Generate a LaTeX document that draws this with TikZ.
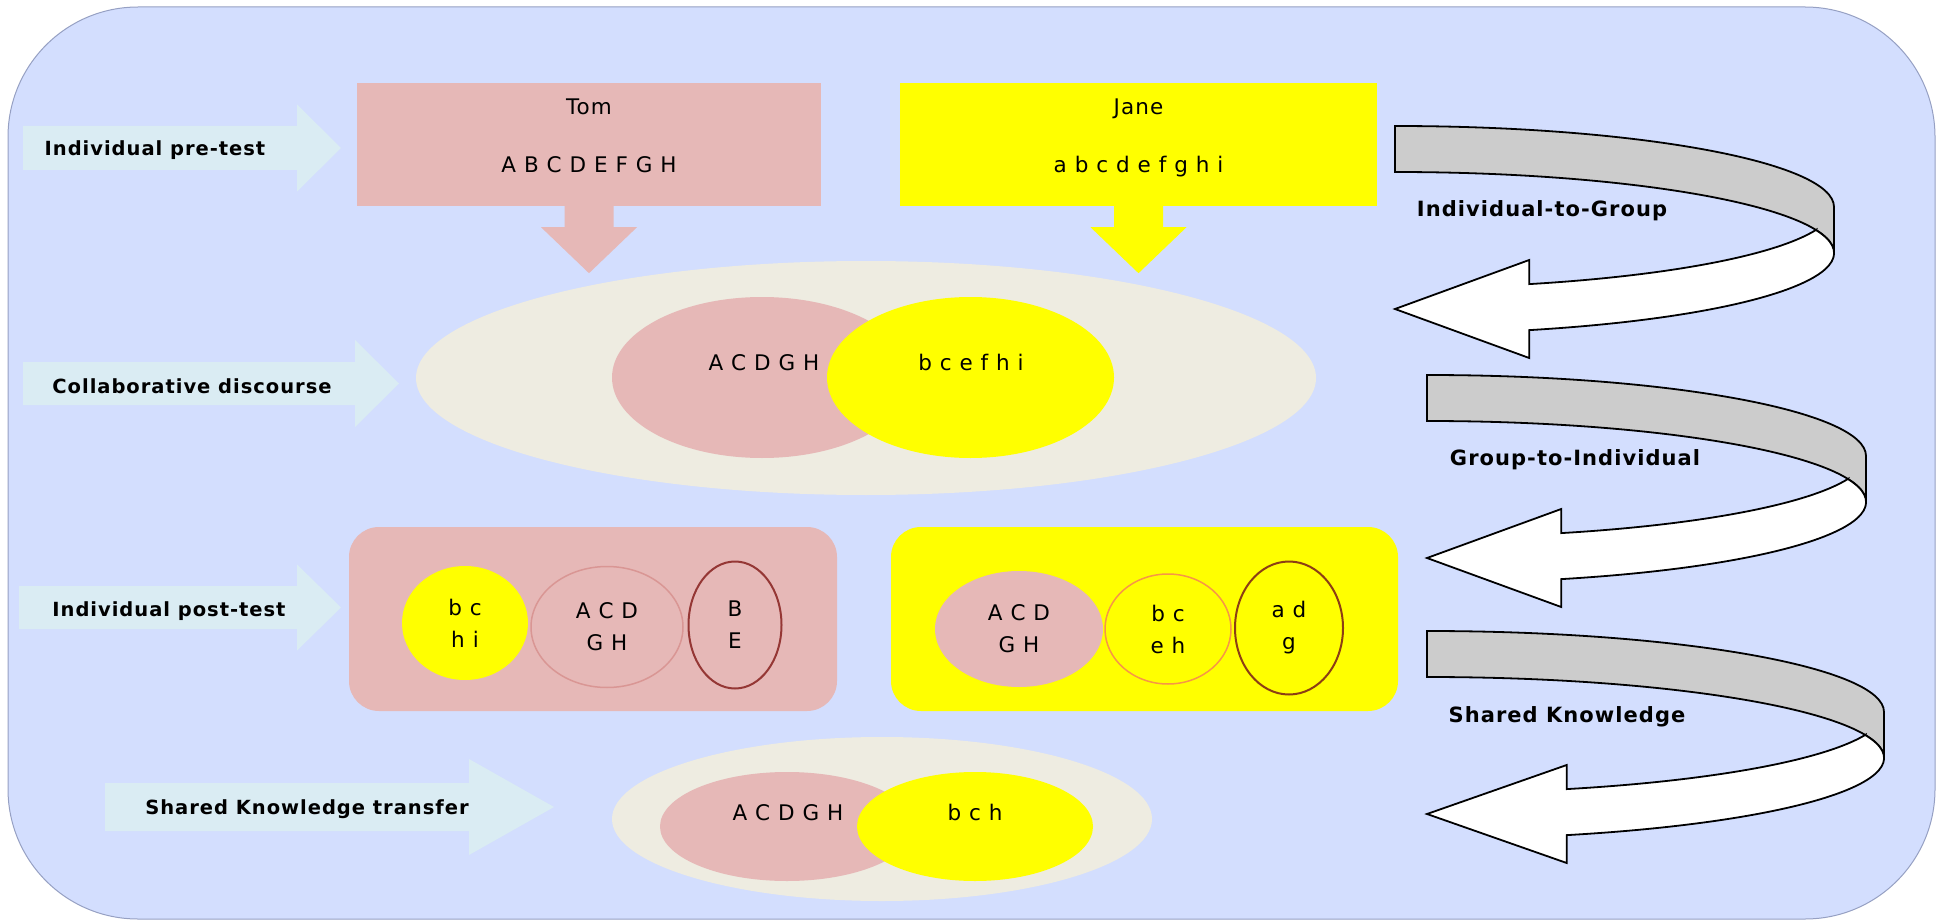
\documentclass[tikz,border=0pt]{standalone}
\usepackage{fontspec}
\setmainfont[LetterSpace=5]{DejaVu Sans}
\usepackage{tikz}
\usetikzlibrary{shapes.geometric, positioning, calc}

\definecolor{bgblue}{RGB}{211,222,254}
\definecolor{bgline}{RGB}{150,160,195}
\definecolor{lblcyan}{RGB}{218,236,243}
\definecolor{tompink}{RGB}{230,184,183}
\definecolor{janeyel}{RGB}{255,255,0}
\definecolor{talkbeige}{RGB}{238,236,225}
\definecolor{ribgray}{RGB}{204,204,204}
\definecolor{rimpink}{RGB}{217,150,148}
\definecolor{rimred}{RGB}{149,55,53}
\definecolor{rimorange}{RGB}{247,150,70}
\definecolor{rimbrown}{RGB}{140,62,20}

\tikzset{
  cue/.style={fill=lblcyan},
  cuetext/.style={font=\fontsize{19.5}{23}\selectfont\bfseries, anchor=base},
  looptext/.style={font=\fontsize{21}{25}\selectfont\bfseries, anchor=base},
  letters/.style={font=\fontsize{21.5}{32}\selectfont, align=center, inner sep=0pt},
  namebox/.style={rectangle, inner sep=0pt},
  blob/.style={ellipse, inner sep=0pt},
  postbox/.style={rectangle, rounded corners=30pt, inner sep=0pt},
  ribbonline/.style={draw=black, line width=1.8pt},
}

% left x, mid y, head base x, tip x, half shaft, half head
\newcommand\cue[6]{%
  \fill[cue] (#1,#2-#5) -- (#3,#2-#5) -- (#3,#2-#6) -- (#4,#2)
    -- (#3,#2+#6) -- (#3,#2+#5) -- (#1,#2+#5) -- cycle;}

% box, colour
\newcommand\drop[2]{%
  \fill[#2] ($(#1.south)+(-24.5,0)$) -- ++(0,21) -- ++(-23.5,0) -- ($(#1.south)+(0,67)$)
    -- ($(#1.south)+(48,21)$) -- ++(-23.5,0) -- ++(0,-21) -- cycle;}

% top left x, top left y, stretch
\newcommand\ribbon[3]{%
  \begin{scope}[shift={(#1,#2)}, xscale=#3]
    \draw[ribbonline, fill=ribgray] (0,0)
      arc[start angle=90, end angle=0, x radius=439pt, y radius=81pt]
      -- (439,127) arc[start angle=0, end angle=90, x radius=439pt, y radius=81pt] -- cycle;
    \draw[ribbonline, fill=white] (420.9,104)
      arc[start angle=16.5, end angle=-72.2, x radius=439pt, y radius=81pt]
      -- (134.2,232) -- (0,183) -- (134.2,134) -- (134.2,158.1)
      arc[start angle=-72.2, end angle=-16.5, x radius=439pt, y radius=81pt] -- cycle;
  \end{scope}}

\begin{document}
\begin{tikzpicture}[x=1pt, y=-1pt]
\useasboundingbox (0,0) rectangle (1939,920);
\draw[draw=bgline, fill=bgblue, line width=1pt, rounded corners=130pt] (8,7) rectangle (1935,919);

% stages
\cue{23}{148}{297}{341}{22}{43.5}
\cue{23}{383.5}{355}{399}{21.5}{43.5}
\cue{19}{607.5}{297}{341}{21.5}{43}
\cue{105}{807}{469}{554}{24}{48}
\node[cuetext] (pre)    at (155,156) {Individual pre-test};
\node[cuetext] (collab) at (192,393) {Collaborative discourse};
\node[cuetext] (post)   at (169,616) {Individual post-test};
\node[cuetext] (trans)  at (307,814) {Shared Knowledge transfer};

% pre-test
\node[namebox, fill=tompink, minimum width=464pt, minimum height=123pt] (tom) at (589,144.5) {};
\node[namebox, fill=janeyel, minimum width=477pt, minimum height=123pt] (jane) at (1138.5,144.5) {};
\node[letters, anchor=base] (tomname) at (589,115) {Tom};
\node[letters, anchor=base] (tomset) at (589,173) {A B C D E F G H};
\node[letters, anchor=base] (janename) at (1138.5,115) {Jane};
\node[letters, anchor=base] (janeset) at (1138.5,173) {a b c d e f g h i};
\drop{tom}{tompink}
\drop{jane}{janeyel}

% discourse
\node[blob, fill=talkbeige, minimum width=900pt, minimum height=234pt] (talk) at (866,378) {};
\node[blob, fill=tompink, minimum width=300pt, minimum height=161pt] (talktom) at (762,377.5) {};
\node[blob, fill=janeyel, minimum width=287pt, minimum height=161pt] (talkjane) at (970.5,377.5) {};
\node[letters, anchor=base] at (764,370) {A C D G H};
\node[letters, anchor=base] at (971,370) {b c e f h i};

% post-test
\node[postbox, fill=tompink, minimum width=488pt, minimum height=184pt] (tompost) at (593,619) {};
\node[postbox, fill=janeyel, minimum width=507pt, minimum height=184pt] (janepost) at (1144.5,619) {};
\node[blob, letters, fill=janeyel, minimum width=126pt, minimum height=114pt] (tomgain) at (465,623) {b c\\h i};
\node[blob, letters, fill=tompink, draw=rimpink, line width=1.5pt, minimum width=152pt, minimum height=121pt] (tomkeep) at (607,627) {A C D\\G H};
\node[blob, letters, fill=tompink, draw=rimred, line width=2pt, minimum width=93pt, minimum height=127pt] (tomlost) at (735,625) {B\\E};
\node[blob, letters, fill=tompink, minimum width=168pt, minimum height=116pt] (janegain) at (1019,629) {A C D\\G H};
\node[blob, letters, fill=janeyel, draw=rimorange, line width=1.5pt, minimum width=126pt, minimum height=110pt] (janekeep) at (1168,629) {b c\\e h};
\node[blob, letters, fill=janeyel, draw=rimbrown, line width=2pt, minimum width=108pt, minimum height=133pt] (janelost) at (1289,628) {a d\\g};

% transfer
\node[blob, fill=talkbeige, minimum width=540pt, minimum height=164pt] (share) at (882,819) {};
\node[blob, fill=tompink, minimum width=254pt, minimum height=109pt] (sharetom) at (787,826.5) {};
\node[blob, fill=janeyel, minimum width=236pt, minimum height=109pt] (sharejane) at (975,826.5) {};
\node[letters, anchor=base] at (788,820) {A C D G H};
\node[letters, anchor=base] at (975,820) {b c h};

% loops
\ribbon{1395}{126}{1}
\ribbon{1427}{375}{1}
\ribbon{1427}{631}{1.041}
\node[looptext] (itog) at (1542,217) {Individual-to-Group};
\node[looptext] (gtoi) at (1575,465) {Group-to-Individual};
\node[looptext] (skn)  at (1567,722) {Shared Knowledge};
\end{tikzpicture}
\end{document}
